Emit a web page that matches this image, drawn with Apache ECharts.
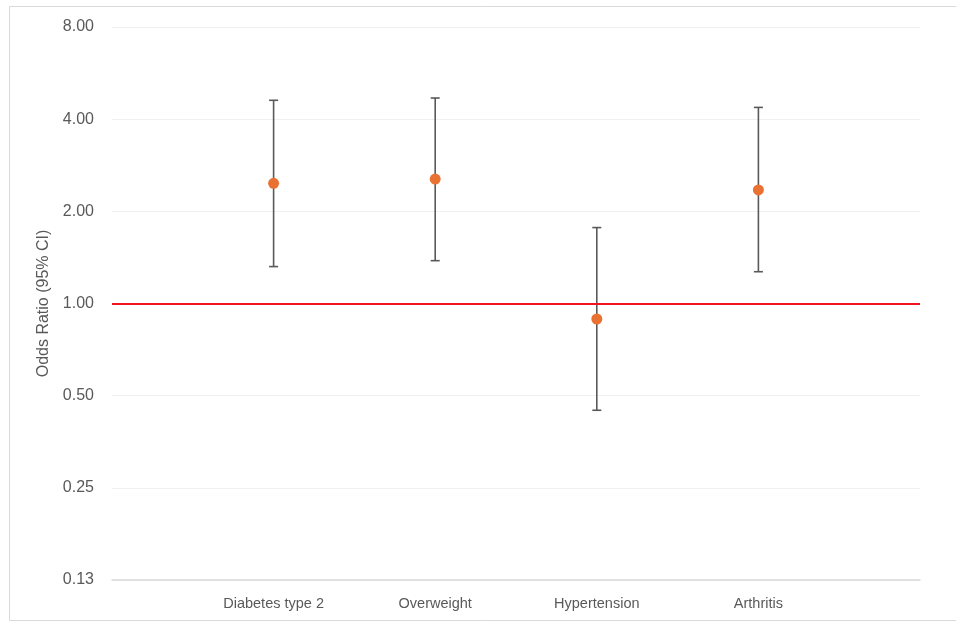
<!DOCTYPE html>
<html>
<head>
<meta charset="utf-8">
<script src="https://cdn.jsdelivr.net/npm/echarts@6/dist/echarts.min.js"></script>
<style>
html,body{margin:0;padding:0;background:#fff;}
#chart{width:956px;height:624px;}
</style>
</head>
<body>
<div id="chart"></div>
<script>
// Data
const categories = ["", "Diabetes type 2", "Overweight", "Hypertension", "Arthritis", ""];
const oddsRatio = [null, 2.47, 2.55, 0.89, 2.35, null];
const ciLower   = [null, 1.32, 1.38, 0.448, 1.27, null];
const ciUpper   = [null, 4.61, 4.69, 1.77, 4.37, null];
const yTicks = [0.125, 0.25, 0.5, 1, 2, 4, 8];
const referenceValue = 1;

const chart = echarts.init(document.getElementById('chart'), null, {renderer: 'canvas'});

const pointData = [];
const errData = [];
categories.forEach((c, i) => {
  if (oddsRatio[i] != null) {
    pointData.push([i, oddsRatio[i]]);
    errData.push([i, ciLower[i], ciUpper[i]]);
  }
});

const textColor = '#595959';
const font = "'Liberation Sans', Arial, sans-serif";

chart.setOption({
  animation: false,
  backgroundColor: '#ffffff',
  graphic: [{
    type: 'rect',
    shape: {x: 9.5, y: 6.5, width: 960, height: 614},
    style: {fill: 'none', stroke: '#d9d9d9', lineWidth: 1},
    silent: true, z: -10
  }],
  grid: {left: 112, right: 36, top: 27, bottom: 44, containLabel: false},
  xAxis: {
    type: 'category',
    data: categories,
    boundaryGap: false,
    axisLine: {onZero: false, lineStyle: {color: '#d9d9d9', width: 1.5}},
    axisTick: {show: false},
    axisLabel: {interval: 0, color: textColor, fontFamily: font, fontSize: 14.5, margin: 16},
    splitLine: {show: false}
  },
  yAxis: {
    type: 'log',
    logBase: 2,
    min: yTicks[0],
    max: yTicks[yTicks.length - 1],
    interval: 1,
    splitNumber: yTicks.length - 1,
    name: 'Odds Ratio (95% CI)',
    nameLocation: 'middle',
    nameGap: 55,
    nameRotate: 90,
    nameTextStyle: {color: textColor, fontFamily: font, fontSize: 16},
    axisLine: {show: false},
    axisTick: {show: false},
    axisLabel: {
      color: textColor, fontFamily: font, fontSize: 16, margin: 18,
      formatter: v => Number(v).toFixed(2)
    },
    splitLine: {show: true, lineStyle: {color: '#f0f0f0', width: 1.2}}
  },
  series: [
    {
      type: 'custom',
      data: errData,
      z: 3,
      renderItem: function (params, api) {
        const x = api.value(0);
        const lo = api.coord([x, api.value(1)]);
        const hi = api.coord([x, api.value(2)]);
        const cap = 4.5;
        const style = {stroke: '#595959', lineWidth: 1.6, fill: 'none'};
        return {
          type: 'group',
          children: [
            {type: 'line', shape: {x1: lo[0], y1: lo[1], x2: hi[0], y2: hi[1]}, style: style},
            {type: 'line', shape: {x1: lo[0] - cap, y1: lo[1], x2: lo[0] + cap, y2: lo[1]}, style: style},
            {type: 'line', shape: {x1: hi[0] - cap, y1: hi[1], x2: hi[0] + cap, y2: hi[1]}, style: style}
          ]
        };
      },
      encode: {x: 0, y: [1, 2]}
    },
    {
      type: 'scatter',
      data: pointData,
      symbol: 'circle',
      symbolSize: 11,
      z: 5,
      itemStyle: {color: '#E97132', opacity: 1},
      markLine: {
        silent: true,
        symbol: 'none',
        label: {show: false},
        lineStyle: {color: '#F0141E', width: 2, type: 'solid'},
        data: [{yAxis: referenceValue}]
      }
    }
  ]
});
</script>
</body>
</html>
